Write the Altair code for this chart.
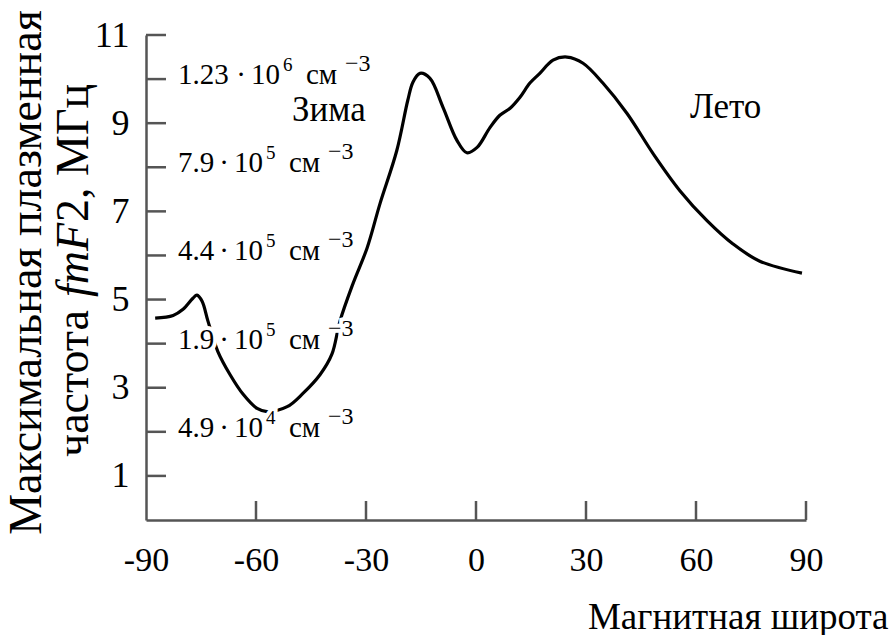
import altair as alt
import pandas as pd

# ---- data ----
lat = [-87.5, -82.6, -79.9, -77.2, -76.1, -74.7, -73.1, -70.4, -67.1, -63.5,
       -59.7, -57.0, -51.5, -47.2, -42.5, -39.3, -37.1, -33.6, -29.7, -26.2,
       -21.6, -18.6, -17.2, -15.3, -12.6, -9.0, -5.2, -2.5, 0.3, 3.8,
       6.5, 9.3, 12.0, 14.7, 17.4, 21.0, 24.8, 29.2, 34.6, 41.2,
       48.3, 55.6, 63.0, 70.1, 77.4, 88.9]
fmf2 = [4.58, 4.64, 4.78, 5.03, 5.10, 4.96, 4.51, 3.82, 3.30, 2.85,
        2.53, 2.46, 2.57, 2.87, 3.30, 3.76, 4.51, 5.35, 6.17, 7.17,
        8.38, 9.52, 9.93, 10.13, 10.02, 9.36, 8.61, 8.33, 8.45, 8.90,
        9.18, 9.34, 9.59, 9.91, 10.13, 10.43, 10.50, 10.36, 9.91, 9.22,
        8.31, 7.47, 6.79, 6.26, 5.87, 5.60]

x_ticks = [-90, -60, -30, 0, 30, 60, 90]
y_labels = [1, 3, 5, 7, 9, 11]
y_ticks = [1, 2, 3, 4, 5, 6, 7, 8, 9, 10, 11]

levels = [10, 8, 6, 4, 2]
mantissas = ["1.23", "7.9", "4.4", "1.9", "4.9"]
exponents = ["6", "5", "5", "5", "4"]

# ---- layout ----
W, H = 660, 485
FONT = "Liberation Serif"
AX = "#555555"

def px_to_lat(p):
    return -90 + p * 180.0 / W

xs = alt.Scale(domain=[-90, 90], nice=False, zero=False)
ys = alt.Scale(domain=[0, 11], nice=False, zero=False)

x_axis = alt.Axis(
    values=x_ticks, labelExpr="'' + datum.value", grid=False,
    ticks=False, tickSize=0, labelPadding=50, labelBaseline="alphabetic",
    labelFont=FONT, labelFontSize=34, labelColor="black", labelFlush=False,
    labelOverlap=False, domainColor=AX, domainWidth=2.5,
    title="Магнитная широта", titleFont=FONT, titleFontSize=37,
    titleFontWeight="normal", titleColor="black", titleX=742, titleY=108,
    titleAlign="right", titleBaseline="alphabetic")
y_axis = alt.Axis(
    values=y_labels, grid=False, ticks=False, tickSize=0, labelPadding=17,
    labelFont=FONT, labelFontSize=36, labelColor="black",
    labelAlign="right", labelBaseline="middle", labelFlush=False,
    domainColor=AX, domainWidth=2.5,
    title="Максимальная плазменная", titleFont=FONT, titleFontSize=46,
    titleFontWeight="normal", titleColor="black", titleX=-106, titleY=237,
    titleAngle=270, titleAlign="center", titleBaseline="alphabetic")

curve = pd.DataFrame({"lat": lat, "f": fmf2})

line = alt.Chart(curve).mark_line(
    color="black", strokeWidth=3.2, interpolate="catmull-rom"
).encode(
    x=alt.X("lat:Q", scale=xs, axis=x_axis),
    y=alt.Y("f:Q", scale=ys, axis=y_axis),
)

xt = pd.DataFrame({"t": x_ticks[1:]})
xtick_rules = alt.Chart(xt).mark_rule(color=AX, strokeWidth=2.5).encode(
    x=alt.X("t:Q", scale=xs, axis=x_axis), y=alt.value(H), y2=alt.value(H - 19))

yt = pd.DataFrame({"t": y_ticks})
ytick_rules = alt.Chart(yt).mark_rule(color=AX, strokeWidth=2.5).encode(
    y=alt.Y("t:Q", scale=ys, axis=y_axis), x=alt.value(0), x2=alt.value(20))

# density labels: pieces (offsets in px from the y axis)
rows = []
for v, m, e in zip(levels, mantissas, exponents):
    s = 17 if len(m) > 3 else 0
    rows += [
        {"kind": "main", "text": m, "p": 32, "v": v},
        {"kind": "dot", "text": "·", "p": 78 + s, "v": v},
        {"kind": "main", "text": "10", "p": 88 + s, "v": v},
        {"kind": "exp", "text": e, "p": 120 + s, "v": v},
        {"kind": "main", "text": "см", "p": 143 + s, "v": v},
        {"kind": "unit", "text": "−3", "p": 182 + s, "v": v},
    ]
lab = pd.DataFrame(rows)
lab["lat"] = lab["p"].map(px_to_lat)

def label_layer(kind, halo):
    style = dict(font=FONT, baseline="alphabetic", align="left")
    if kind == "exp":
        style.update(fontSize=19, dy=-8)
    elif kind == "unit":
        style.update(fontSize=24, dy=-8)
    elif kind == "dot":
        style.update(fontSize=29, dy=5, align="center")
    else:
        style.update(fontSize=29, dy=5)
    if halo:
        style.update(color="white", stroke="white", strokeWidth=8)
    else:
        style.update(color="black")
    return alt.Chart(lab).transform_filter(
        alt.datum.kind == kind
    ).mark_text(**style).encode(
        x=alt.X("lat:Q", scale=xs, axis=x_axis),
        y=alt.Y("v:Q", scale=ys, axis=y_axis),
        text="text:N",
    )

kinds = ["main", "dot", "exp", "unit"]
halos = [label_layer(k, True) for k in kinds]
texts = [label_layer(k, False) for k in kinds]

# season labels
seasons = pd.DataFrame({
    "text": ["Зима", "Лето"],
    "lat": [px_to_lat(146), px_to_lat(544)],
    "v": [11 - 86 / (H / 11), 11 - 83 / (H / 11)],
})
season_text = alt.Chart(seasons).mark_text(
    font=FONT, fontSize=35, align="left", baseline="alphabetic", color="black"
).encode(
    x=alt.X("lat:Q", scale=xs, axis=x_axis),
    y=alt.Y("v:Q", scale=ys, axis=y_axis),
    text="text:N",
)

# second line of y title with italic fmF
one = pd.DataFrame({"a": [0]})
def title_piece(txt, ypos, italic=False):
    kw = dict(font=FONT, fontSize=46, angle=270, align="left",
              baseline="alphabetic", color="black")
    if italic:
        kw["fontStyle"] = "italic"
    return alt.Chart(one).mark_text(**kw).encode(
        x=alt.value(-58), y=alt.value(ypos), text=alt.value(txt))

t1 = title_piece("частота", 422)
t2 = title_piece("fmF", 262, italic=True)
t3 = title_piece("2, МГц", 187)

chart = alt.layer(
    line, xtick_rules, ytick_rules, *halos, *texts, season_text, t1, t2, t3
).properties(
    width=W, height=H,
    autosize=alt.AutoSizeParams(type="none"),
    padding={"left": 146, "top": 35, "right": 88, "bottom": 115},
).configure(background="white").configure_view(stroke=None)

chart.save("out.html", embed_options={"renderer": "svg", "actions": False})
